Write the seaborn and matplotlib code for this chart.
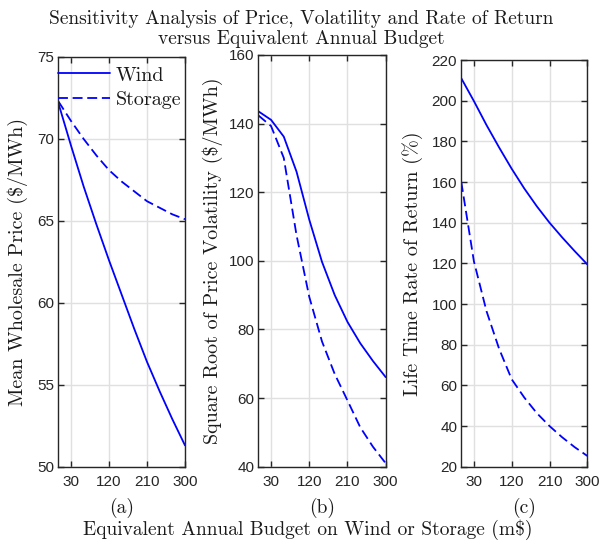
import numpy as np
import pandas as pd
import matplotlib
matplotlib.use('Agg')
import matplotlib.pyplot as plt
import seaborn as sns

# %%

budget = [0, 30, 60, 90, 120, 150, 180, 210, 240, 270, 300]

price_wind = [72.2, 69.6, 67.1, 64.8, 62.6, 60.5, 58.4, 56.4, 54.6, 52.9, 51.3]
price_storage = [72.3, 71.1, 70.0, 69.0, 68.1, 67.4, 66.8, 66.2, 65.8, 65.4, 65.1]

vol_wind = [143.6, 141.1, 136.2, 126.0, 112.0, 99.7, 90.0, 82.2, 76.0, 70.8, 66.1]
vol_storage = [142.4, 139.3, 130.0, 107.5, 89.5, 76.5, 67.0, 59.3, 51.5, 45.8, 41.0]

ror_wind = [211.0, 199.8, 188.0, 177.0, 166.5, 156.8, 148.0, 140.0, 132.8, 126.0, 119.5]
ror_storage = [160.0, 121.0, 96.5, 78.0, 63.0, 54.0, 46.3, 40.0, 34.5, 29.6, 25.3]

series_names = ['Wind', 'Storage']
ylabels = [r'Mean Wholesale Price (\$/MWh)',
           r'Square Root of Price Volatility (\$/MWh)',
           r'Life Time Rate of Return (%)']
panel_tags = ['(a)', '(b)', '(c)']
xticks = [30, 120, 210, 300]

# %%

sns.set_style('ticks')
plt.rcParams['font.family'] = ['Liberation Sans', 'DejaVu Sans']
serif = ['cmr10', 'DejaVu Serif']
spine_col = '#262626'
text_col = '#1a1a1a'

fig = plt.figure(figsize=(6.05, 5.45), dpi=100)

W, H = 605, 545
boxes = [(58.3, 185.0, 57.0, 466.7),
         (258.3, 385.7, 55.0, 466.7),
         (461.3, 587.3, 60.0, 466.7)]
ylims = [(50, 75), (40, 160), (20, 220)]
yticks = [np.arange(50, 76, 5), np.arange(40, 161, 20), np.arange(20, 221, 20)]
label_x = [18, 213, 413]

data = [(price_wind, price_storage), (vol_wind, vol_storage), (ror_wind, ror_storage)]

axes = []
for i, (l, r, t, b) in enumerate(boxes):
    ax = fig.add_axes([l / W, 1 - b / H, (r - l) / W, (b - t) / H])
    wind, storage = data[i]
    df = pd.DataFrame({
        'budget': budget * 2,
        'value': wind + storage,
        'series': ['Wind'] * len(budget) + ['Storage'] * len(budget),
    })
    sns.lineplot(data=df, x='budget', y='value', style='series',
                 style_order=series_names,
                 dashes={'Wind': '', 'Storage': (5.5, 2.6)},
                 color='blue', lw=1.3, errorbar=None, legend=False, ax=ax)
    ax.set_xlim(0, 300)
    ax.set_ylim(*ylims[i])
    ax.set_xticks(xticks)
    ax.set_yticks(yticks[i])
    ax.grid(True, color='#e0e0e0', lw=1.0)
    ax.set_axisbelow(True)
    for s in ax.spines.values():
        s.set_color(spine_col)
        s.set_linewidth(1.0)
    ax.tick_params(direction='in', top=True, right=True, length=4,
                   color=spine_col, labelsize=11, labelcolor=spine_col, width=1.0)
    ax.tick_params(axis='x', pad=6)
    ax.tick_params(axis='y', pad=3)
    ax.set_xlabel('')
    ax.set_ylabel(ylabels[i], family=serif, fontsize=14.5, color=text_col)
    ax.yaxis.label.set_va('center')
    ax.yaxis.set_label_coords((label_x[i] - l) / (r - l), 0.5)
    fig.text(((l + r) / 2) / W, 1 - 508 / H, panel_tags[i], family=serif,
             fontsize=14, ha='center', va='center', color=text_col)
    axes.append(ax)

leg = axes[0].legend(handles=axes[0].lines[:2], labels=series_names,
                     loc='upper left', bbox_to_anchor=(0.0, 0.977),
                     frameon=False, borderaxespad=0.0, borderpad=0.0,
                     handlelength=2.55, handletextpad=0.3,
                     labelspacing=0.3, prop={'family': serif, 'size': 14.5})
for txt in leg.get_texts():
    txt.set_color(text_col)

fig.text(0.498, 1 - 29 / H,
         'Sensitivity Analysis of Price, Volatility and Rate of Return\nversus Equivalent Annual Budget',
         family=serif, fontsize=14, ha='center', va='center',
         linespacing=1.08, color=text_col)
fig.text(308 / W, 1 - 530 / H, r'Equivalent Annual Budget on Wind or Storage (m\$)',
         family=serif, fontsize=14, ha='center', va='center', color=text_col)

fig.savefig('out.png', dpi=100)
